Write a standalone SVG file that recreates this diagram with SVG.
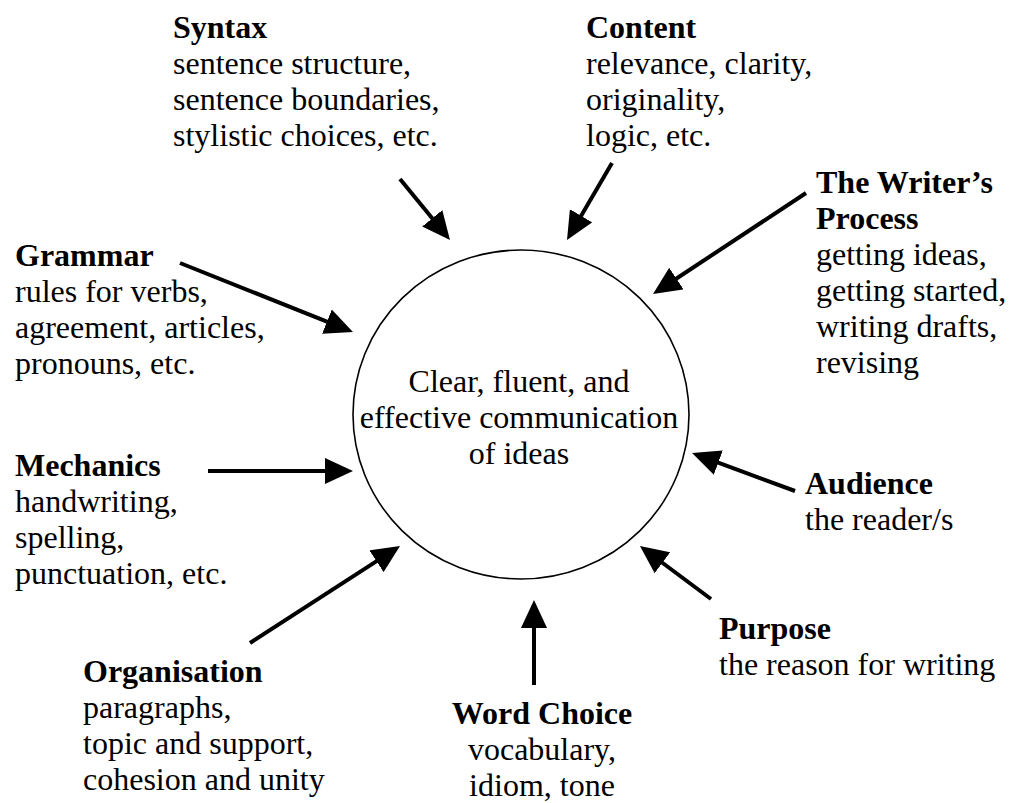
<svg xmlns="http://www.w3.org/2000/svg" width="1015" height="803" viewBox="0 0 1015 803">
<defs>
<style>
text{font-family:"Liberation Serif","Times New Roman",serif;font-size:32px;fill:#000}
.b{font-weight:bold}
.c{text-anchor:middle}
.arr{stroke:#000;stroke-width:4;fill:none;marker-end:url(#ah)}
</style>
<marker id="ah" markerUnits="userSpaceOnUse" markerWidth="28" markerHeight="26" viewBox="0 0 28 26" refX="8" refY="13" orient="auto">
<path d="M0,0 L28,13 L0,26 z" fill="#000"/>
</marker>
</defs>
<rect width="1015" height="803" fill="#fff"/>
<g id="center">
<ellipse cx="521" cy="414.5" rx="168" ry="164.5" fill="none" stroke="#000" stroke-width="1.6"/>
<text class="c" x="519" y="392">Clear, fluent, and</text>
<text class="c" x="519" y="428">effective communication</text>
<text class="c" x="519" y="464">of ideas</text>
</g>
<g id="connectors">
<line class="arr" x1="400" y1="179" x2="437.3" y2="224.5"/>
<line class="arr" x1="612" y1="163" x2="577.1" y2="222.7"/>
<line class="arr" x1="806" y1="193" x2="669.7" y2="283"/>
<line class="arr" x1="180" y1="263" x2="334.4" y2="324.6"/>
<line class="arr" x1="208" y1="471" x2="333" y2="471"/>
<line class="arr" x1="250" y1="643" x2="383.2" y2="556.9"/>
<line class="arr" x1="534" y1="685" x2="534" y2="620"/>
<line class="arr" x1="711" y1="599" x2="656" y2="558"/>
<line class="arr" x1="795" y1="491" x2="710.8" y2="459.9"/>
</g>
<g id="syntax">
<text class="b" x="173" y="38">Syntax</text>
<text x="173" y="74">sentence structure,</text>
<text x="173" y="110">sentence boundaries,</text>
<text x="173" y="146">stylistic choices, etc.</text>
</g>
<g id="content">
<text class="b" x="586" y="38">Content</text>
<text x="586" y="74">relevance, clarity,</text>
<text x="586" y="110">originality,</text>
<text x="586" y="146">logic, etc.</text>
</g>
<g id="writers-process">
<text class="b" x="816" y="193">The Writer’s</text>
<text class="b" x="816" y="229">Process</text>
<text x="816" y="265">getting ideas,</text>
<text x="816" y="301">getting started,</text>
<text x="816" y="337">writing drafts,</text>
<text x="816" y="373">revising</text>
</g>
<g id="grammar">
<text class="b" x="15" y="266">Grammar</text>
<text x="15" y="302">rules for verbs,</text>
<text x="15" y="338">agreement, articles,</text>
<text x="15" y="374">pronouns, etc.</text>
</g>
<g id="mechanics">
<text class="b" x="15" y="476">Mechanics</text>
<text x="15" y="512">handwriting,</text>
<text x="15" y="548">spelling,</text>
<text x="15" y="584">punctuation, etc.</text>
</g>
<g id="organisation">
<text class="b" x="83" y="682">Organisation</text>
<text x="83" y="718">paragraphs,</text>
<text x="83" y="754">topic and support,</text>
<text x="83" y="790">cohesion and unity</text>
</g>
<g id="word-choice">
<text class="b c" x="542" y="724">Word Choice</text>
<text class="c" x="542" y="760">vocabulary,</text>
<text class="c" x="542" y="796">idiom, tone</text>
</g>
<g id="purpose">
<text class="b" x="719" y="639">Purpose</text>
<text x="719" y="675">the reason for writing</text>
</g>
<g id="audience">
<text class="b" x="805" y="494">Audience</text>
<text x="805" y="530">the reader/s</text>
</g>
</svg>
